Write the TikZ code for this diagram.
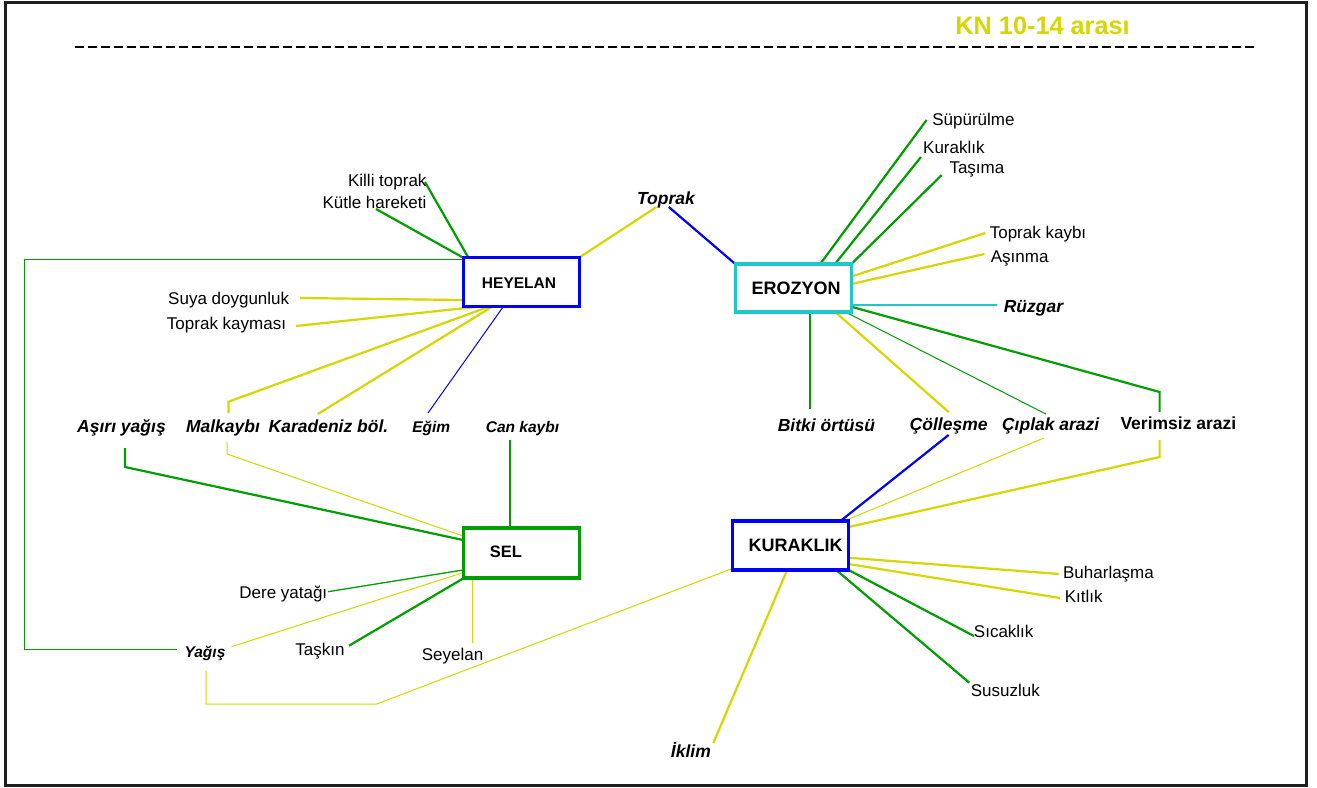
\documentclass[tikz,border=0pt]{standalone}
\usepackage{fontspec}
\setmainfont{Liberation Sans}
\usetikzlibrary{calc}
\definecolor{yel}{RGB}{214,214,0}
\definecolor{grn}{RGB}{0,158,0}
\definecolor{cyn}{RGB}{30,200,200}
\definecolor{blu}{RGB}{0,0,255}
\definecolor{frm}{RGB}{30,30,30}
\begin{document}
\begin{tikzpicture}[x=1pt,y=-1pt,
  txt/.style={inner sep=0pt,anchor=mid,yshift=-3.5pt},
  lab/.style={txt,font=\fontsize{17}{20}\selectfont},
  bi/.style={txt,font=\fontsize{17.5}{20}\selectfont\bfseries\itshape},
  bis/.style={txt,font=\fontsize{15.5}{18}\selectfont\bfseries\itshape},
  bb/.style={txt,font=\fontsize{17.5}{20}\selectfont\bfseries},
  box/.style={draw=#1,line width=3.5pt,minimum width=116pt,minimum height=49pt,inner sep=0pt,fill=white},
  boxtxt/.style={txt,font=\fontsize{#1}{20}\selectfont\bfseries},
  wide/.style={line width=2.2pt},
  fine/.style={line width=1pt},
  line join=miter]
\useasboundingbox (0,0) rectangle (1317,787);
\fill[white] (0,0) rectangle (1317,787);
% page frame and header rule
\draw[frm,line width=3pt] (5,2) rectangle (1306,785);
\draw[black,line width=2.4pt,dash pattern=on 9.3pt off 3.7pt] (75,47) -- (1256,47);
\node[inner sep=0pt,anchor=mid,text=yel,font=\fontsize{25.3}{28}\selectfont\bfseries] (title) at (1042.6,32) {KN 10-14 arası};

% connectors (drawn first so the boxes sit on top)
% HEYELAN
\draw[grn,wide] (425,182) -- (468,257);
\draw[grn,wide] (376,209) -- (462,257);
\draw[grn,fine] (463,259) -- (24.4,259) -- (24.4,649) -- (177,649);
\draw[yel,wide] (580,257) -- (656.5,207);
\draw[blu,wide] (668.8,207) -- (735.3,264);
\draw[yel,wide] (300,298) -- (462,300);
\draw[yel,wide] (296,326) -- (475.6,307);
\draw[yel,wide] (488,307) -- (228.5,401.7) -- (228.5,413);
\draw[yel,wide] (491.6,307) -- (317.8,414);
\draw[blu,fine] (503,307) -- (428,413);
% SEL
\draw[grn,wide] (125,448) -- (125,467) -- (463,540);
\draw[yel,fine] (227,442) -- (227,454) -- (463,536);
\draw[grn,wide] (510,440) -- (510,528);
\draw[grn,line width=1.3pt] (328,591.7) -- (463,570);
\draw[yel,fine] (231.5,646.7) -- (463,572.7);
\draw[grn,wide] (349,645.7) -- (464,578);
\draw[yel,line width=1.5pt] (472.6,578) -- (472.6,642.7);
\draw[yel,fine] (206,670.7) -- (206,704) -- (376.7,704) -- (731,569);
% EROZYON
\draw[grn,wide] (926.6,120) -- (820.2,264);
\draw[grn,wide] (921,157) -- (834.9,264);
\draw[grn,wide] (941.7,175) -- (851.4,264);
\draw[yel,wide] (985.3,233) -- (850,277);
\draw[yel,wide] (984.4,254) -- (851.4,284);
\draw[cyn,wide] (851.4,305) -- (997.2,305);
\draw[grn,wide] (810,311.7) -- (810,409);
\draw[yel,wide] (834.9,311.7) -- (948.6,412);
\draw[grn,fine] (845.4,312) -- (1045.9,414);
\draw[grn,wide] (852.3,307) -- (1159.6,392) -- (1159.6,412);
% KURAKLIK
\draw[blu,wide] (948.6,435) -- (840.8,520.7);
\draw[yel,fine] (1044,438) -- (845,520.7);
\draw[yel,wide] (1159.6,440) -- (1159.6,457) -- (848.6,527);
\draw[yel,wide] (848.6,557.7) -- (1058.7,574);
\draw[yel,wide] (848.6,564) -- (1060,598);
\draw[grn,wide] (848.6,570) -- (973.9,636);
\draw[grn,wide] (836.2,570) -- (969.3,682.7);
\draw[yel,wide] (787.2,570) -- (713.3,743);

% main boxes
\node[box=blu] (hey) at (521.25,282) {};
\node[boxtxt=15.5] (heyt) at (519,282) {HEYELAN};
\node[box=cyn,minimum height=47.7pt] (ero) at (793.4,287.9) {};
\node[boxtxt=18] (erot) at (796,288) {EROZYON};
\node[box=grn,minimum height=50pt] (sel) at (521.25,553) {};
\node[boxtxt=16.5] (selt) at (506,551.7) {SEL};
\node[box=blu] (kur) at (790.3,545.3) {};
\node[boxtxt=18] (kurt) at (795.6,545) {KURAKLIK};

% plain labels
\node[lab] (killi) at (387.3,180) {Killi toprak};
\node[lab] (kutle) at (374.5,202) {Kütle hareketi};
\node[lab] (suya) at (228.7,298) {Suya doygunluk};
\node[lab] (kayma) at (226.5,323) {Toprak kayması};
\node[lab] (dere) at (283.3,592.7) {Dere yatağı};
\node[lab] (taskin) at (320,649) {Taşkın};
\node[lab] (seyelan) at (452.5,654) {Seyelan};
\node[lab] (supur) at (973.4,119) {Süpürülme};
\node[lab] (kurak) at (953.9,147) {Kuraklık};
\node[lab] (tasima) at (976.9,167) {Taşıma};
\node[lab] (tkaybi) at (1038,232) {Toprak kaybı};
\node[lab] (asinma) at (1019.7,256) {Aşınma};
\node[lab] (buhar) at (1108.5,572) {Buharlaşma};
\node[lab] (kitlik) at (1083.7,596) {Kıtlık};
\node[lab] (sicak) at (1003.7,631.7) {Sıcaklık};
\node[lab] (susuz) at (1005.3,690) {Susuzluk};

% emphasised labels
\node[bi] (toprak) at (666,198) {Toprak};
\node[bi] (ruzgar) at (1033.5,306.7) {Rüzgar};
\node[bi] (asiri) at (121.5,426.7) {Aşırı yağış};
\node[bi] (malk) at (223,426.7) {Malkaybı};
\node[bi] (karad) at (328.5,426.7) {Karadeniz böl.};
\node[bis] (egim) at (431.2,426) {Eğim};
\node[bis] (cank) at (522.5,426.7) {Can kaybı};
\node[bi] (bitki) at (826.4,425) {Bitki örtüsü};
\node[bi] (colles) at (948.7,424) {Çölleşme};
\node[bi] (ciplak) at (1050.7,424) {Çıplak arazi};
\node[bb] (verims) at (1178.4,423) {Verimsiz arazi};
\node[bis] (yagis) at (205,651.7) {Yağış};
\node[bi] (iklim) at (690.9,751.7) {İklim};
\end{tikzpicture}
\end{document}
